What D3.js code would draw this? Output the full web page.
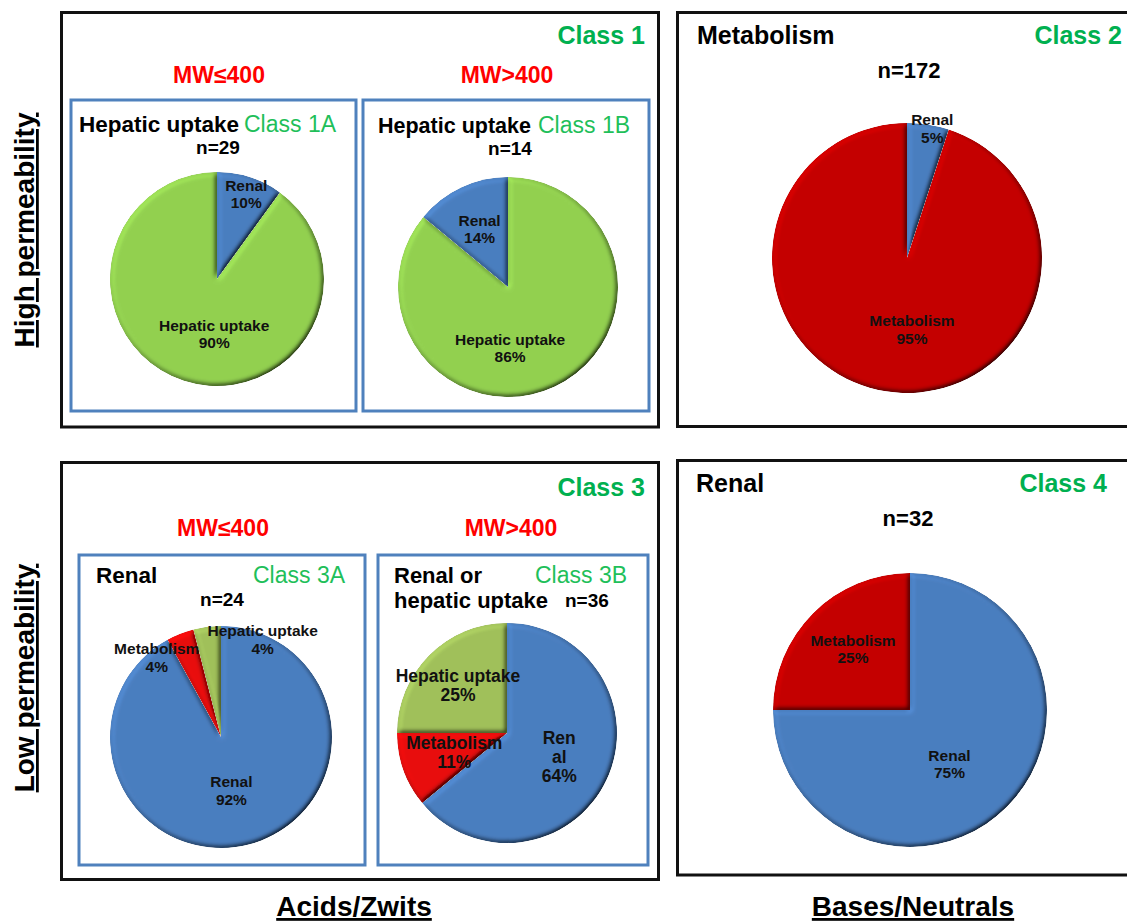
<!DOCTYPE html>
<html>
<head>
<meta charset="utf-8">
<script src="https://cdn.jsdelivr.net/npm/d3@7"></script>
<style>
  html, body { margin: 0; padding: 0; background: #ffffff; }
  svg { display: block; font-family: "Liberation Sans", Arial, sans-serif; }
</style>
</head>
<body>
<svg id="chart" width="1127" height="921"></svg>
<script>
// ---- Data ---------------------------------------------------------------
const class1ANames = ["Renal", "Hepatic uptake"];
const class1AValues = [10, 90];
const class1BNames = ["Hepatic uptake", "Renal"];
const class1BValues = [86, 14];
const class2Names = ["Renal", "Metabolism"];
const class2Values = [5, 95];
const class3ANames = ["Renal", "Metabolism", "Hepatic uptake"];
const class3AValues = [92, 4, 4];
const class3BNames = ["Renal", "Metabolism", "Hepatic uptake"];
const class3BValues = [64, 11, 25];
const class4Names = ["Renal", "Metabolism"];
const class4Values = [75, 25];

const classIds = ["Class 1A", "Class 1B", "Class 2", "Class 3A", "Class 3B", "Class 4"];
const sampleSizes = [29, 14, 172, 24, 36, 32];
const routeTitles = [["Hepatic uptake"], ["Hepatic uptake"], ["Metabolism"], ["Renal"], ["Renal or", "hepatic uptake"], ["Renal"]];
const groupTitles = ["Class 1", "Class 3"];
const mwLabels = ["MW\u2264400", "MW>400"];
const rowLabels = ["High permeability", "Low permeability"];
const columnLabels = ["Acids/Zwits", "Bases/Neutrals"];

// ---- Styling ------------------------------------------------------------
const BLUE = "#4A7EBF";
const palettes = {
  c1: { "Renal": BLUE, "Hepatic uptake": "#92D050" },
  c24: { "Renal": BLUE, "Metabolism": "#C40000" },
  c3: { "Renal": BLUE, "Metabolism": "#E80C0C", "Hepatic uptake": "#A0C05A" }
};
const GREEN = "#00B050";
const SUBGREEN = "#1FBF5A";

const svg = d3.select("#chart");
svg.append("rect").attr("width", 1127).attr("height", 921).attr("fill", "#fff");

// soft bevel on each slice
const defs = svg.append("defs");
const f = defs.append("filter").attr("id", "bevel")
  .attr("x", "-5%").attr("y", "-5%").attr("width", "110%").attr("height", "110%");
f.append("feGaussianBlur").attr("in", "SourceAlpha").attr("stdDeviation", 2.6).attr("result", "b");
const lt = f.append("feDiffuseLighting").attr("in", "b").attr("surfaceScale", 4)
  .attr("diffuseConstant", 1).attr("lighting-color", "#ffffff").attr("result", "l");
lt.append("feDistantLight").attr("azimuth", 225).attr("elevation", 55);
f.append("feComposite").attr("in", "SourceGraphic").attr("in2", "l")
  .attr("operator", "arithmetic").attr("k1", 1.22).attr("k2", 0).attr("k3", 0).attr("k4", 0).attr("result", "lit");
f.append("feComposite").attr("in", "lit").attr("in2", "SourceAlpha").attr("operator", "in");

// ---- Frames -------------------------------------------------------------
const frames = [
  { x: 61.5, y: 12.5, w: 597, h: 414.5 },
  { x: 677.5, y: 12.5, w: 470, h: 414 },
  { x: 61.5, y: 462.5, w: 597, h: 417 },
  { x: 677.5, y: 460.5, w: 470, h: 414.5 }
];
svg.selectAll("rect.frame").data(frames).join("rect")
  .attr("class", "frame")
  .attr("x", d => d.x).attr("y", d => d.y).attr("width", d => d.w).attr("height", d => d.h)
  .attr("fill", "none").attr("stroke", "#111").attr("stroke-width", 3);

const boxes = [
  { x: 71, y: 100, w: 285, h: 311 },
  { x: 363, y: 100, w: 286, h: 311 },
  { x: 79, y: 555, w: 286, h: 310 },
  { x: 378, y: 555, w: 270, h: 310 }
];
svg.selectAll("rect.box").data(boxes).join("rect")
  .attr("class", "box")
  .attr("x", d => d.x).attr("y", d => d.y).attr("width", d => d.w).attr("height", d => d.h)
  .attr("fill", "none").attr("stroke", "#4F81BD").attr("stroke-width", 3);

// ---- Text helpers -------------------------------------------------------
function txt(x, y, s, o) {
  o = o || {};
  return svg.append("text")
    .attr("x", x).attr("y", y)
    .attr("text-anchor", o.anchor || "start")
    .attr("font-size", o.size || 22)
    .attr("font-weight", o.weight || "bold")
    .attr("fill", o.fill || "#000")
    .text(s);
}

// group headers
txt(645, 44, groupTitles[0], { anchor: "end", size: 25, fill: GREEN });
txt(645, 496, groupTitles[1], { anchor: "end", size: 25, fill: GREEN });
txt(219, 83, mwLabels[0], { anchor: "middle", size: 23, fill: "#FF0000" });
txt(507, 83, mwLabels[1], { anchor: "middle", size: 23, fill: "#FF0000" });
txt(223, 536, mwLabels[0], { anchor: "middle", size: 23, fill: "#FF0000" });
txt(511, 536, mwLabels[1], { anchor: "middle", size: 23, fill: "#FF0000" });

// panel headers: route title, class id, n
const headers = [
  { tx: 79, ty: 132, ts: 22.5, cx: 244, ca: "start", cs: 23, cc: SUBGREEN, cw: "normal", nx: 218, ny: 154, ns: 19, na: "middle" },
  { tx: 378, ty: 133, ts: 21.5, cx: 538, ca: "start", cs: 23, cc: SUBGREEN, cw: "normal", nx: 510, ny: 155, ns: 19, na: "middle" },
  { tx: 697, ty: 44, ts: 25, cx: 1122, ca: "end", cs: 25, cc: GREEN, cw: "bold", nx: 909, ny: 78, ns: 22, na: "middle" },
  { tx: 96, ty: 583, ts: 22.5, cx: 253, ca: "start", cs: 23, cc: SUBGREEN, cw: "normal", nx: 222, ny: 606, ns: 19, na: "middle" },
  { tx: 394, ty: 583, ts: 22, cx: 535, ca: "start", cs: 23, cc: SUBGREEN, cw: "normal", nx: 565, ny: 607, ns: 19, na: "start" },
  { tx: 696, ty: 492, ts: 25, cx: 1107, ca: "end", cs: 25, cc: GREEN, cw: "bold", nx: 908, ny: 526, ns: 22, na: "middle" }
];
headers.forEach((h, i) => {
  routeTitles[i].forEach((line, j) => txt(h.tx, h.ty + j * 25, line, { size: h.ts }));
  txt(h.cx, h.ty, classIds[i], { anchor: h.ca, size: h.cs, fill: h.cc, weight: h.cw });
  txt(h.nx, h.ny, "n=" + sampleSizes[i], { anchor: h.na, size: h.ns });
});

// ---- Pies ---------------------------------------------------------------
// label placement: [angle in degrees clockwise from 12 o'clock, fraction of radius]
const pies = [
  { names: class1ANames, values: class1AValues, pal: palettes.c1, cx: 217, cy: 279, r: 107,
    lab: [[19, 0.84], [183, 0.51]], fs: 15.5, lh: 17 },
  { names: class1BNames, values: class1BValues, pal: palettes.c1, cx: 508, cy: 287, r: 110,
    lab: [[178, 0.55], [334, 0.59]], fs: 15.5, lh: 17 },
  { names: class2Names, values: class2Values, pal: palettes.c24, cx: 907, cy: 258, r: 135,
    lab: [[11, 0.98], [176, 0.53]], fs: 15.5, lh: 18 },
  { names: class3ANames, values: class3AValues, pal: palettes.c3, cx: 221, cy: 737, r: 111,
    lab: [[169, 0.49], [321, 0.92], [23, 0.96]], fs: 15.5, lh: 18 },
  { names: class3BNames, values: class3BValues, pal: palettes.c3, cx: 507, cy: 733, r: 110,
    lab: [[114, 0.52], [250, 0.51], [314, 0.62]], fs: 17.5, lh: 19, wrap: { "Renal": ["Ren", "al"] } },
  { names: class4Names, values: class4Values, pal: palettes.c24, cx: 910, cy: 710, r: 137,
    lab: [[144, 0.49], [317, 0.61]], fs: 15.5, lh: 17 }
];

const pieGen = d3.pie().sort(null).value(d => d.v);

pies.forEach(p => {
  const rows = p.names.map((n, i) => ({ n, v: p.values[i] }));
  const arcs = pieGen(rows);
  const arc = d3.arc().innerRadius(0).outerRadius(p.r);
  const g = svg.append("g").attr("transform", `translate(${p.cx},${p.cy})`);

  g.selectAll("path").data(arcs).join("path")
    .attr("d", arc)
    .attr("fill", d => p.pal[d.data.n])
    .attr("filter", "url(#bevel)");

  const lg = svg.append("g").attr("transform", `translate(${p.cx},${p.cy})`);
  arcs.forEach((d, i) => {
    const [deg, fr] = p.lab[i];
    const a = deg * Math.PI / 180;
    const lx = Math.sin(a) * fr * p.r;
    const ly = -Math.cos(a) * fr * p.r;
    const nameLines = (p.wrap && p.wrap[d.data.n]) || [d.data.n];
    const lines = nameLines.concat([d.data.v + "%"]);
    const t = lg.append("text")
      .attr("text-anchor", "middle")
      .attr("font-size", p.fs)
      .attr("font-weight", "bold")
      .attr("fill", "#111");
    lines.forEach((s, k) => {
      t.append("tspan")
        .attr("x", lx)
        .attr("y", ly + (k - (lines.length - 1) / 2) * p.lh + p.fs * 0.36)
        .text(s);
    });
  });
});

// ---- Axis titles --------------------------------------------------------
svg.append("text")
  .attr("transform", "translate(34,230) rotate(-90)")
  .attr("text-anchor", "middle").attr("font-size", 28).attr("font-weight", "bold")
  .style("text-decoration", "underline")
  .text(rowLabels[0]);
svg.append("text")
  .attr("transform", "translate(34,678) rotate(-90)")
  .attr("text-anchor", "middle").attr("font-size", 28).attr("font-weight", "bold")
  .style("text-decoration", "underline")
  .text(rowLabels[1]);
svg.append("text")
  .attr("x", 354).attr("y", 916)
  .attr("text-anchor", "middle").attr("font-size", 28).attr("font-weight", "bold")
  .style("text-decoration", "underline")
  .text(columnLabels[0]);
svg.append("text")
  .attr("x", 913).attr("y", 916)
  .attr("text-anchor", "middle").attr("font-size", 28).attr("font-weight", "bold")
  .style("text-decoration", "underline")
  .text(columnLabels[1]);
</script>
</body>
</html>
